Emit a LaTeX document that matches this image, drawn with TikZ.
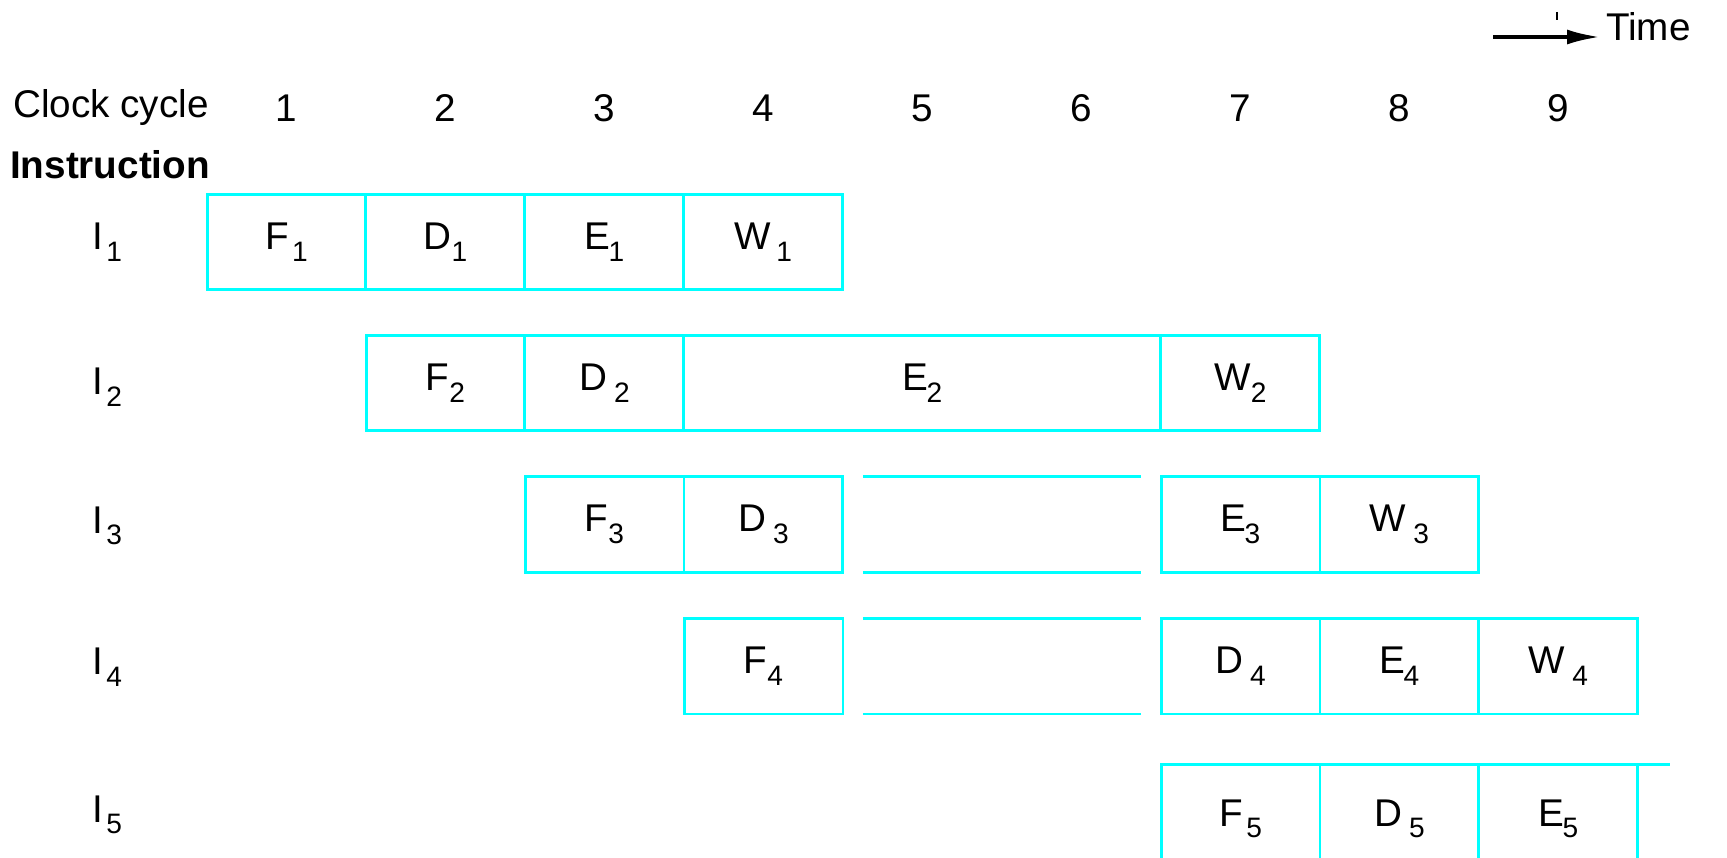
\documentclass[tikz,border=0pt]{standalone}
\usepackage{fontspec}
\setmainfont{Liberation Sans}
\usepackage{tikz}
\usetikzlibrary{arrows.meta, positioning}
\definecolor{cellcyan}{HTML}{00FFFF}
\newcommand{\lowsub}[1]{\raisebox{-0.3em}{\fontsize{16}{18}\selectfont #1}}

\begin{document}
\begin{tikzpicture}[
  x=0.02cm, y=0.02cm,
  font=\fontsize{22}{26}\selectfont,
  cell/.style={draw=cellcyan, line width=1.7pt, outer sep=0pt, inner sep=0pt, minimum width=3.18cm, minimum height=1.92cm},
  opencell/.style={cell, draw=none, minimum height=2.2cm},
  stall/.style={draw=cellcyan, line width=1.7pt},
  timearrow/.style={-{Latex[length=0.66cm, width=0.3cm]}, line width=2pt}
]
  \useasboundingbox (0,0) rectangle (1727,-858);
  \coordinate (pagebottom) at (0,-858);

  % header
  \node[anchor=west] (clock) at (7,-108) {Clock cycle};
  \foreach \c in {1,...,9}
    \node (c\c) at ({286.5+(\c-1)*159},-108) {\c};
  \node[anchor=west, font=\fontsize{22}{26}\selectfont\bfseries] (instr) at (4,-165) {Instruction};

  \coordinate (tstart) at (1493,-37);
  \coordinate (tend) at (1600,-37);
  \draw[timearrow] (tstart) -- (tend);
  \draw[line width=0.6pt] (1557,-12) -- (1557,-20);
  \node[anchor=west] (time) at (1600,-27) {Time};

  % instruction labels
  \node (i1) at (107,-242) {I\hspace{2pt}\lowsub{1}};
  \node (i2) at (107,-387) {I\hspace{2pt}\lowsub{2}};
  \node (i3) at (107,-526) {I\hspace{2pt}\lowsub{3}};
  \node (i4) at (107,-667) {I\hspace{2pt}\lowsub{4}};
  \node (i5) at (107,-815) {I\hspace{2pt}\lowsub{5}};

  % I1
  \node[cell] (f1) at (286.5,-242) {F\hspace{2pt}\lowsub{1}};
  \node[cell, right=0pt of f1] (d1) {D\lowsub{1}};
  \node[cell, right=0pt of d1] (e1) {E\kern-1pt\lowsub{1}};
  \node[cell, right=0pt of e1] (w1) {W\hspace{3pt}\lowsub{1}};

  % I2
  \node[cell] (f2) at (445.5,-383) {F\lowsub{2}};
  \node[cell, right=0pt of f2] (d2) {D\hspace{4pt}\lowsub{2}};
  \node[cell, right=0pt of d2, minimum width=9.54cm] (e2) {E\kern-1pt\lowsub{2}};
  \node[cell, right=0pt of e2] (w2) {W\lowsub{2}};

  % I3
  \node[cell] (f3) at (604.5,-524.5) {F\lowsub{3}};
  \node[cell, right=0pt of f3] (d3) {D\hspace{4pt}\lowsub{3}};
  \node[cell] (e3) at (1240.5,-524.5) {E\kern-1pt\lowsub{3}};
  \node[cell, right=0pt of e3] (w3) {W\hspace{4pt}\lowsub{3}};
  \draw[stall] ([xshift=0.4cm]d3.north east) -- ([xshift=-0.4cm]e3.north west);
  \draw[stall] ([xshift=0.4cm]d3.south east) -- ([xshift=-0.4cm]e3.south west);

  % I4
  \node[cell] (f4) at (763.5,-666) {F\lowsub{4}};
  \node[cell] (d4) at (1240.5,-666) {D\hspace{4pt}\lowsub{4}};
  \node[cell, right=0pt of d4] (e4) {E\kern-1pt\lowsub{4}};
  \node[cell, right=0pt of e4] (w4) {W\hspace{4pt}\lowsub{4}};
  \draw[stall] ([xshift=0.4cm]f4.north east) -- ([xshift=-0.4cm]d4.north west);
  \draw[stall] ([xshift=0.4cm]f4.south east) -- ([xshift=-0.4cm]d4.south west);

  % I5
  \node[opencell, anchor=north] (f5) at (1240.5,-764) {F\hspace{2pt}\lowsub{5}};
  \node[opencell, right=0pt of f5] (d5) {D\hspace{4pt}\lowsub{5}};
  \node[opencell, right=0pt of d5] (e5) {E\kern-1pt\lowsub{5}};
  \draw[stall] (f5.north west |- pagebottom) -- (f5.north west) -- ([xshift=0.64cm]e5.north east);
  \draw[stall] (d5.north west) -- (d5.north west |- pagebottom);
  \draw[stall] (e5.north west) -- (e5.north west |- pagebottom);
  \draw[stall] (e5.north east) -- (e5.north east |- pagebottom);
\end{tikzpicture}
\end{document}
